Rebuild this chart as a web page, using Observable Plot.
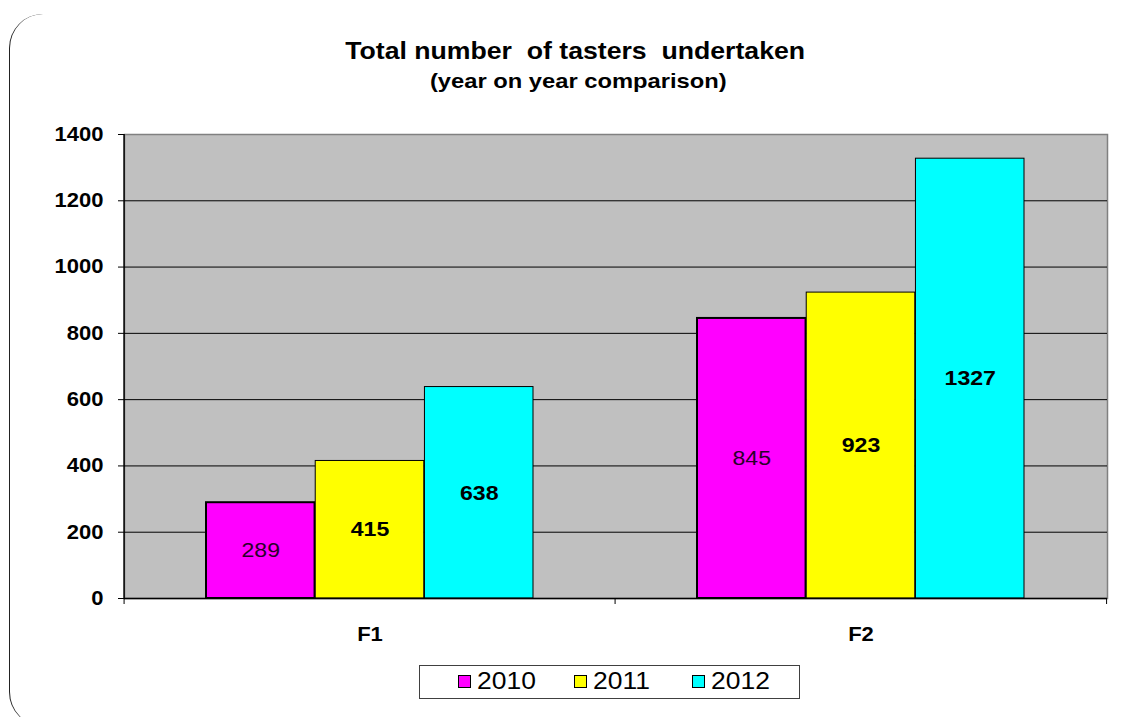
<!DOCTYPE html>
<html>
<head>
<meta charset="utf-8">
<script src="https://cdn.jsdelivr.net/npm/d3@7"></script>
<script src="https://cdn.jsdelivr.net/npm/@observablehq/plot@0.6"></script>
<style>
  html, body { margin: 0; padding: 0; background: #fff; }
  #wrap { position: relative; width: 1131px; height: 717px; overflow: hidden; font-family: "Liberation Sans", Arial, sans-serif; }
  #border { position: absolute; left: 9px; top: 14px; width: 1125px; height: 712px; border-left: 1.5px solid #222; border-radius: 34px; box-sizing: border-box; }
  .hd { position: absolute; left: 0; text-align: center; font-weight: bold; color: #000; white-space: nowrap; }
  .hd span { display: inline-block; transform-origin: 50% 50%; }
  #title { width: 1151px; top: 38.5px; font-size: 24px; line-height: 24px; }
  #title span { transform: scaleX(1.11); }
  #subtitle { width: 1156px; top: 70px; font-size: 21px; line-height: 21px; }
  #subtitle span { transform: scaleX(1.13); }
  #chart { position: absolute; left: 0; top: 100px; }
  #legend { position: absolute; left: 419px; top: 665px; width: 381px; height: 34px; border: 1.5px solid #404040; box-sizing: border-box; font-size: 23px; color: #000; }
  .item { position: absolute; top: 0; height: 31px; display: flex; align-items: center; }
  .sw { width: 11px; height: 11px; border: 1.5px solid #000; margin-right: 6px; }
  .item span { display: inline-block; transform: scaleX(1.15); transform-origin: 0 50%; }
</style>
</head>
<body>
<div id="wrap">
  <div id="border"></div>
  <div id="title" class="hd"><span>Total number&nbsp; of tasters&nbsp; undertaken</span></div>
  <div id="subtitle" class="hd"><span>(year on year comparison)</span></div>
  <div id="chart"></div>
  <div id="legend"></div>
</div>
<script>
const categories = ["F1", "F2"];
const years = ["2010", "2011", "2012"];
const values2010 = [289, 845];
const values2011 = [415, 923];
const values2012 = [638, 1327];
const yTicks = [0, 200, 400, 600, 800, 1000, 1200, 1400];
const colors = ["#FF00FF", "#FFFF00", "#00FFFF"];

const series = [values2010, values2011, values2012];
const rows = years.map((yr, i) => categories.map((c, j) => ({cat: c, year: yr, value: series[i][j]})));

const W = 1131, H = 560;
const mL = 124, mR = 24, mT = 34, mB = 62;
const plotW = W - mL - mR;
const pInner = 1 / 3, pOuter = 1 / 6;
const step = plotW / (categories.length - pInner + 2 * pOuter);
const bw = step * (1 - pInner);
const third = bw / 3;

const barMarks = years.map((yr, i) => Plot.barY(rows[i], {
  x: "cat", y: "value", fill: colors[i],
  stroke: "#000", strokeWidth: i === 0 ? 2 : 1,
  insetLeft: third * i, insetRight: third * (2 - i)
}));
const labelMarks = years.map((yr, i) => Plot.text(rows[i], {
  x: "cat", y: d => d.value / 2, text: d => String(d.value),
  dx: third * (i - 1),
  fontSize: 21, fontWeight: i === 0 ? "normal" : "bold",
  fill: i === 0 ? "#2a002a" : "#000"
}));

const plot = Plot.plot({
  width: W, height: H,
  marginLeft: mL, marginRight: mR, marginTop: mT, marginBottom: mB,
  style: {background: "transparent", fontFamily: "Liberation Sans, Arial, sans-serif", overflow: "visible"},
  x: {domain: categories, paddingInner: pInner, paddingOuter: pOuter, label: null},
  y: {domain: [0, 1400], label: null},
  marks: [
    Plot.frame({fill: "#C0C0C0", stroke: "#808080", strokeWidth: 1.5}),
    Plot.gridY(yTicks.slice(0, -1), {stroke: "#000", strokeOpacity: 1, strokeWidth: 1}),
    Plot.axisY(yTicks, {tickSize: 6, tickPadding: 15, fontSize: 20, fontWeight: "bold", stroke: "#000", fill: "#000", tickFormat: d => String(d)}),
    Plot.axisX({tickSize: 0, tickPadding: 28, fontSize: 20, fontWeight: "bold", fill: "#000"}),
    ...barMarks,
    Plot.ruleY([0], {stroke: "#000", strokeWidth: 1.5}),
    ...labelMarks
  ]
});

// widen glyphs horizontally like the reference rendering
d3.select(plot).selectAll("text").each(function () {
  const t = d3.select(this);
  const tr = t.attr("transform");
  if (tr) {
    t.attr("transform", tr + " scale(1.1,1)");
  } else {
    const x = +(t.attr("x") || 0), y = +(t.attr("y") || 0);
    t.attr("x", null).attr("y", null).attr("transform", `translate(${x},${y}) scale(1.1,1)`);
  }
});

// left axis line and category boundary ticks from the plot's own scales
const xs = plot.scale("x");
const ys = plot.scale("y");
const svg = d3.select(plot);
const y0 = ys.apply(0), yTop = ys.apply(1400);
const edges = categories.map(c => xs.apply(c) - (step - bw) / 2);
edges.push(xs.apply(categories[categories.length - 1]) + bw + (step - bw) / 2);
svg.append("line").attr("x1", edges[0]).attr("x2", edges[0]).attr("y1", yTop).attr("y2", y0).attr("stroke", "#000").attr("stroke-width", 1.5);
edges.forEach(x => svg.append("line").attr("x1", x).attr("x2", x).attr("y1", y0).attr("y2", y0 + 6).attr("stroke", "#000").attr("stroke-width", 1));

document.getElementById("chart").appendChild(plot);

// legend
const lg = document.getElementById("legend");
const lefts = [37.5, 153.5, 271.5];
years.forEach((yr, i) => {
  const it = document.createElement("div");
  it.className = "item";
  it.style.left = lefts[i] + "px";
  const sw = document.createElement("div");
  sw.className = "sw";
  sw.style.background = colors[i];
  const tx = document.createElement("span");
  tx.textContent = yr;
  it.appendChild(sw); it.appendChild(tx);
  lg.appendChild(it);
});
</script>
</body>
</html>
